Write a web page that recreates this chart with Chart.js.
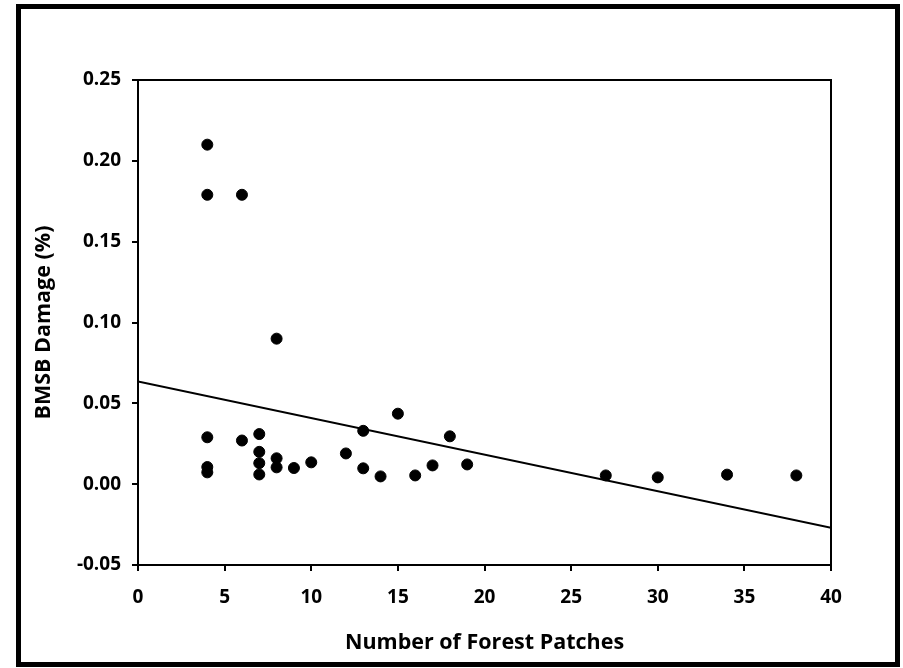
<!DOCTYPE html>
<html>
<head>
<meta charset="utf-8">
<script src="https://cdn.jsdelivr.net/npm/chart.js@4.4.1/dist/chart.umd.min.js"></script>
<style>
  body { margin: 0; background: #fff; }
  #wrap { position: relative; width: 903px; height: 668px; }
  #frame { position: absolute; left: 16px; top: 4px; width: 884px; height: 663px;
           border: 5px solid #000; box-sizing: border-box; pointer-events: none; }
</style>
</head>
<body>
<div id="wrap">
  <canvas id="scatterChart" width="903" height="668"></canvas>
  <div id="frame"></div>
</div>
<script>
Chart.defaults.font.family = '"Open Sans"';
Chart.defaults.font.weight = 'bold';
Chart.defaults.color = '#000';

//data
const forestPatches = [4, 4, 6, 8, 4, 4, 4, 6, 7, 7, 7, 7, 8, 8, 9, 10, 12, 13, 13, 14, 15, 16, 17, 18, 19, 27, 30, 34, 38];
const bmsbDamage = [0.210, 0.179, 0.179, 0.090, 0.029, 0.0106, 0.0073, 0.027, 0.031, 0.020, 0.013, 0.006, 0.016, 0.0104, 0.010, 0.0135, 0.019, 0.033, 0.0098, 0.0048, 0.0436, 0.0054, 0.0116, 0.0296, 0.0122, 0.0054, 0.0042, 0.0059, 0.0054];
const trendX = [0, 40];
const trendY = [0.0635, -0.027];

const points = forestPatches.map((x, i) => ({ x: x, y: bmsbDamage[i] }));
const trend = trendX.map((x, i) => ({ x: x, y: trendY[i] }));

//box round the plot area
const plotBox = {
    id: 'plotBox',
    afterDraw(chart) {
        const { ctx, chartArea: a } = chart;
        ctx.save();
        ctx.strokeStyle = '#000';
        ctx.lineWidth = 2;
        ctx.strokeRect(a.left, a.top, a.right - a.left, a.bottom - a.top);
        ctx.restore();
    }
};

const config = {
    type: 'scatter',
    data: {
        datasets: [{
            data: points,
            backgroundColor: '#000',
            borderColor: '#000',
            pointRadius: 5.5,
            pointHoverRadius: 5.5,
            order: 1
        }, {
            data: trend,
            showLine: true,
            borderColor: '#000',
            borderWidth: 2,
            pointRadius: 0,
            order: 2
        }]
    },
    options: {
        responsive: false,
        animation: false,
        layout: { padding: { top: 80, right: 72, left: 0, bottom: 0 } },
        plugins: {
            legend: { display: false },
            tooltip: { enabled: false }
        },
        scales: {
            x: {
                type: 'linear',
                min: 0,
                max: 40,
                afterFit(scale) { scale.height = 103; },
                ticks: { stepSize: 5, padding: 15, font: { size: 19, weight: 'bold' } },
                grid: { drawOnChartArea: false, color: '#000', lineWidth: 2, tickLength: 6 },
                border: { color: '#000', width: 2 },
                title: {
                    display: true,
                    text: 'Number of Forest Patches',
                    font: { size: 21.5, weight: 'bold' },
                    padding: { top: 0, bottom: 12 }
                }
            },
            y: {
                type: 'linear',
                min: -0.05,
                max: 0.25,
                afterFit(scale) { scale.width = 138; },
                ticks: {
                    stepSize: 0.05,
                    padding: 11,
                    font: { size: 19, weight: 'bold' },
                    callback: (v) => (Math.abs(v) < 1e-9 ? 0 : v).toFixed(2)
                },
                grid: { drawOnChartArea: false, color: '#000', lineWidth: 2, tickLength: 6 },
                border: { color: '#000', width: 2 },
                title: {
                    display: true,
                    text: 'BMSB Damage (%)',
                    font: { size: 21.5, weight: 'bold' },
                    padding: { top: 31, bottom: 0 }
                }
            }
        }
    },
    plugins: [plotBox]
};

const scatterChart = new Chart(document.getElementById('scatterChart'), config);
</script>
</body>
</html>
